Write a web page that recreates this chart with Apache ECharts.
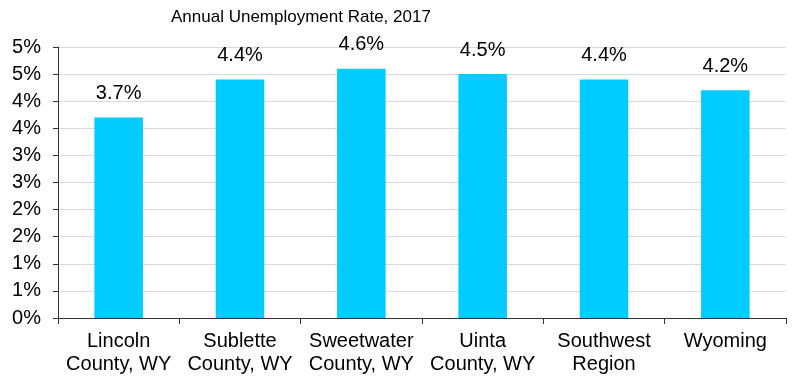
<!DOCTYPE html>
<html>
<head>
<meta charset="utf-8">
<script src="https://cdn.jsdelivr.net/npm/echarts@6/dist/echarts.min.js"></script>
<style>
  html, body { margin: 0; padding: 0; background: #fff; }
  #chart { width: 792px; height: 378px; }
</style>
</head>
<body>
<div id="chart"></div>
<script>
// Annual unemployment rate by area, 2017 (percent)
const categories = [
  'Lincoln\nCounty, WY',
  'Sublette\nCounty, WY',
  'Sweetwater\nCounty, WY',
  'Uinta\nCounty, WY',
  'Southwest\nRegion',
  'Wyoming'
];
const rates = [3.7, 4.4, 4.6, 4.5, 4.4, 4.2];
const chartTitle = 'Annual Unemployment Rate, 2017';

const FONT = '"Liberation Sans", Arial, sans-serif';
const chart = echarts.init(document.getElementById('chart'), null, { renderer: 'canvas' });

chart.setOption({
  animation: false,
  backgroundColor: '#ffffff',
  title: {
    text: chartTitle,
    left: 166,
    top: 4,
    textStyle: { fontFamily: FONT, fontSize: 17, fontWeight: 'normal', color: '#000' }
  },
  grid: { left: 58, right: 6, top: 47, bottom: 60, containLabel: false },
  xAxis: {
    type: 'category',
    data: categories,
    axisLine: { lineStyle: { color: '#333333', width: 1 } },
    axisTick: { show: true, length: 6, alignWithLabel: false, lineStyle: { color: '#333333' } },
    axisLabel: {
      fontFamily: FONT, fontSize: 20, color: '#000', lineHeight: 23, margin: 12, interval: 0
    }
  },
  yAxis: {
    type: 'value',
    min: 0,
    max: 5,
    interval: 0.5,
    axisLine: { show: true, lineStyle: { color: '#333333', width: 1 } },
    axisTick: { show: true, length: 5, lineStyle: { color: '#333333' } },
    splitLine: { lineStyle: { color: '#d9d9d9', width: 1 } },
    axisLabel: {
      fontFamily: FONT, fontSize: 20, color: '#000', margin: 17,
      formatter: v => Math.round(v) + '%'
    }
  },
  series: [{
    type: 'bar',
    data: rates,
    barWidth: '40%',
    itemStyle: { color: '#00ccff' },
    label: {
      show: true,
      position: 'top',
      distance: 14,
      fontFamily: FONT,
      fontSize: 20,
      color: '#000',
      formatter: p => p.value.toFixed(1) + '%'
    }
  }]
});
</script>
</body>
</html>
